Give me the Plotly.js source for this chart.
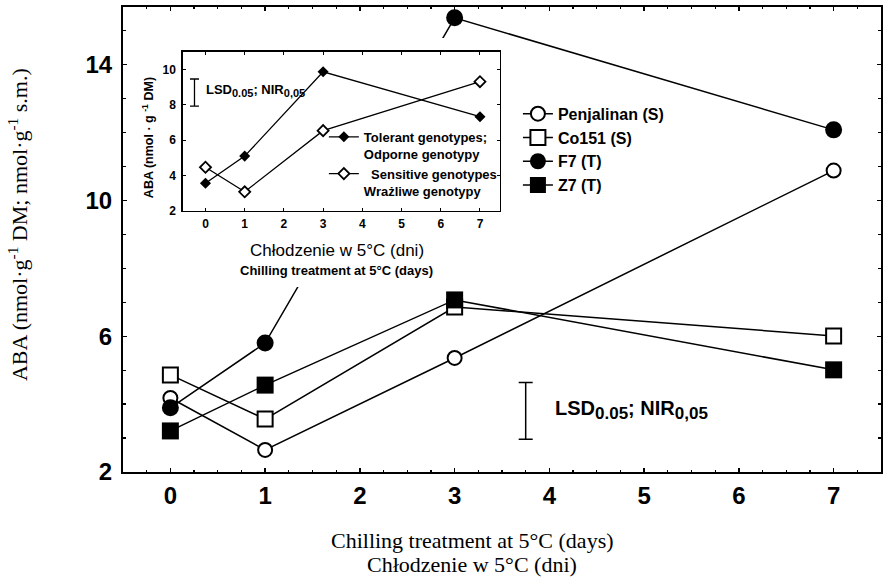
<!DOCTYPE html>
<html>
<head>
<meta charset="utf-8">
<script src="https://cdn.plot.ly/plotly-3.0.1.min.js"></script>
<style>html,body{margin:0;padding:0;background:#fff;}#chart{width:884px;height:578px;}</style>
</head>
<body>
<div id="chart"></div>
<script>
// ---- data ----
const days = [0, 1, 3, 7];
const penjalinan = [4.18, 2.65, 5.36, 10.88];
const co151 = [4.86, 3.56, 6.86, 6.01];
const f7 = [3.89, 5.80, 15.38, 12.08];
const z7 = [3.21, 4.56, 7.07, 5.01];
const seriesNames = ['Penjalinan (S)', 'Co151 (S)', 'F7 (T)', 'Z7 (T)'];

// inset
const tolerant = [3.55, 5.09, 9.86, 7.32];
const sensitive = [4.46, 3.07, 6.53, 9.30];
const insetNames = ['Tolerant genotypes;', '\u00a0\u00a0Sensitive genotypes'];
const insetNames2 = ['Odporne genotypy', 'Wrażliwe genotypy'];

// LSD bars (centre and half-length)
const lsdMainX = [3.75], lsdMainY = [3.80], lsdMainHalf = [0.835];
const lsdInsetX = [-0.28], lsdInsetY = [8.69], lsdInsetHalf = [0.765];

const xTicks = [0, 1, 2, 3, 4, 5, 6, 7];

// ---- styles ----
const ARIAL = "Arial, 'Liberation Sans', sans-serif";
const SERIF = "'Times New Roman', 'Liberation Serif', serif";
const K = '#000';

function line(x, y, name, symbol, size, open, axes, legend, lw) {
  return {
    type: 'scatter', mode: 'lines+markers', x: x, y: y, name: name,
    xaxis: axes[0], yaxis: axes[1], legend: legend, cliponaxis: false,
    line: {color: K, width: lw},
    marker: {symbol: symbol, size: size, color: open ? '#fff' : K,
             line: {color: K, width: open ? lw + 0.5 : 0}}
  };
}

const traces = [
  line(days, penjalinan, seriesNames[0], 'circle', 14, true, ['x', 'y'], 'legend', 1.5),
  line(days, co151, seriesNames[1], 'square', 15, true, ['x', 'y'], 'legend', 1.5),
  line(days, f7, seriesNames[2], 'circle', 17, false, ['x', 'y'], 'legend', 1.5),
  line(days, z7, seriesNames[3], 'square', 17, false, ['x', 'y'], 'legend', 1.5),
  {type: 'scatter', mode: 'markers', x: lsdMainX, y: lsdMainY, showlegend: false,
   xaxis: 'x', yaxis: 'y', marker: {size: 1, color: 'rgba(0,0,0,0)'},
   error_y: {type: 'data', symmetric: true, array: lsdMainHalf, color: K, thickness: 1.5, width: 7}},
  // white cover behind the inset
  {type: 'scatter', mode: 'markers', x: [], y: [], xaxis: 'x2', yaxis: 'y2', showlegend: false},
  // inset
  line(days, tolerant, insetNames[0] + '<br>' + insetNames2[0], 'diamond', 8.5, false, ['x3', 'y3'], 'legend2', 1.3),
  line(days, sensitive, insetNames[1] + '<br>' + insetNames2[1], 'diamond', 8.5, true, ['x3', 'y3'], 'legend2', 1.3),
  {type: 'scatter', mode: 'markers', x: lsdInsetX, y: lsdInsetY, showlegend: false,
   xaxis: 'x3', yaxis: 'y3', marker: {size: 1, color: 'rgba(0,0,0,0)'},
   error_y: {type: 'data', symmetric: true, array: lsdInsetHalf, color: K, thickness: 1.3, width: 4.5}}
];

const mainAxisCommon = {
  showline: true, linewidth: 2, linecolor: K, mirror: 'allticks',
  ticks: 'inside', ticklen: 4, tickwidth: 1.3, tickcolor: K,
  showgrid: false, zeroline: false,
  tickfont: {family: ARIAL, size: 24, color: K, weight: 'bold'}
};
const insetAxisCommon = {
  showline: true, linewidth: 1.5, linecolor: K, mirror: 'allticks',
  ticks: 'inside', ticklen: 3, tickwidth: 1, tickcolor: K,
  showgrid: false, zeroline: false,
  tickfont: {family: ARIAL, size: 12, color: K, weight: 'bold'}
};

function lsdText(big, small) {
  return 'LSD<sub><span style="font-size:' + small + 'px">0.05</span></sub>; NIR<sub><span style="font-size:' + small + 'px">0,05</span></sub>';
}

const annotations = [
  {xref: 'paper', yref: 'paper', x: -0.1385, y: 0.531, xanchor: 'center', yanchor: 'middle',
   textangle: -90, showarrow: false,
   text: 'ABA (nmol·g<sup>-1</sup> DM; nmol·g<sup>-1</sup> s.m.)',
   font: {family: SERIF, size: 22, color: K}},
  {xref: 'paper', yref: 'paper', x: 0.461, y: -0.148, xanchor: 'center', yanchor: 'middle', showarrow: false,
   text: 'Chilling treatment at 5°C (days)', font: {family: SERIF, size: 22, color: K}},
  {xref: 'paper', yref: 'paper', x: 0.461, y: -0.199, xanchor: 'center', yanchor: 'middle', showarrow: false,
   text: 'Chłodzenie w 5°C (dni)', font: {family: SERIF, size: 22, color: K}},
  {xref: 'paper', yref: 'paper', x: 0.5673, y: 0.133, xanchor: 'left', yanchor: 'middle', showarrow: false,
   text: lsdText(20, 17), font: {family: ARIAL, size: 20, color: K, weight: 'bold'}},
  // inset texts
  {xref: 'paper', yref: 'paper', x: 0.033, y: 0.718, xanchor: 'center', yanchor: 'middle',
   textangle: -90, showarrow: false,
   text: 'ABA (nmol · g <sup>-1</sup> DM)', font: {family: ARIAL, size: 12.5, color: K, weight: 'bold'}},
  {xref: 'paper', yref: 'paper', x: 0.2823, y: 0.4774, xanchor: 'center', yanchor: 'middle', showarrow: false,
   text: 'Chłodzenie w 5°C (dni)', font: {family: ARIAL, size: 17, color: K}},
  {xref: 'paper', yref: 'paper', x: 0.2823, y: 0.4323, xanchor: 'center', yanchor: 'middle', showarrow: false,
   text: 'Chilling treatment at 5°C (days)', font: {family: ARIAL, size: 13, color: K, weight: 'bold'}},
  {xref: 'paper', yref: 'paper', x: 0.1069, y: 0.8215, xanchor: 'left', yanchor: 'middle', showarrow: false,
   text: lsdText(13, 11), font: {family: ARIAL, size: 13, color: K, weight: 'bold'}}
];

const layout = {
  width: 884, height: 578,
  margin: {l: 123, r: 3, t: 7, b: 106},
  paper_bgcolor: '#fff', plot_bgcolor: '#fff',
  showlegend: true,
  xaxis: Object.assign({}, mainAxisCommon, {domain: [0, 1], anchor: 'y', range: [-0.5, 7.5],
    tickmode: 'array', tickvals: xTicks, ticklabelstandoff: 1,
    minor: {dtick: 0.25, tick0: 0, ticks: 'inside', ticklen: 2, tickcolor: K}}),
  yaxis: Object.assign({}, mainAxisCommon, {domain: [0, 1], anchor: 'x', range: [2, 15.7],
    tickmode: 'linear', tick0: 2, dtick: 4, ticklabelstandoff: 4,
    minor: {dtick: 1, tick0: 2, ticks: 'inside', ticklen: 3, tickcolor: K}}),
  xaxis2: {domain: [0.0264, 0.5132], anchor: 'y2', range: [0, 1], visible: false, fixedrange: true},
  yaxis2: {domain: [0.3978, 0.9333], anchor: 'x2', range: [0, 1], visible: false, fixedrange: true},
  xaxis3: Object.assign({}, insetAxisCommon, {domain: [0.0788, 0.4968], anchor: 'y3', range: [-0.58, 7.5],
    tickmode: 'linear', tick0: 0, dtick: 1, ticklabelstandoff: 1}),
  yaxis3: Object.assign({}, insetAxisCommon, {domain: [0.5619, 0.9039], anchor: 'x3', range: [2, 11],
    tickmode: 'linear', tick0: 2, dtick: 2, ticklabelstandoff: 3}),
  legend: {x: 0.521, y: 0.807, xanchor: 'left', yanchor: 'top', bgcolor: 'rgba(0,0,0,0)',
    font: {family: ARIAL, size: 16, color: K, weight: 'bold'}, tracegroupgap: 0},
  legend2: {x: 0.265, y: 0.753, xanchor: 'left', yanchor: 'top', bgcolor: 'rgba(0,0,0,0)', valign: 'top',
    font: {family: ARIAL, size: 13, color: K, weight: 'bold'}, tracegroupgap: 0},
  annotations: annotations
};

Plotly.newPlot('chart', traces, layout, {displayModeBar: false, staticPlot: true});
</script>
</body>
</html>
